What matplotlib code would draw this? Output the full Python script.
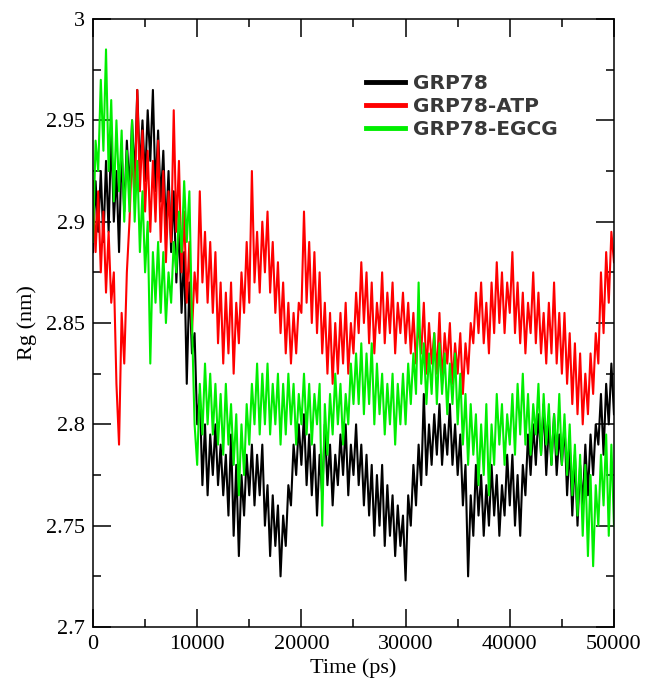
import matplotlib
matplotlib.use("Agg")
import matplotlib.pyplot as plt
from matplotlib.ticker import MultipleLocator, FixedLocator

# sampling grid of the read-off values (ps), one row below = 5000 ps
time_ps = list(range(0, 50001, 250))

grp78 = [
    2.885, 2.920, 2.895, 2.925, 2.890, 2.930, 2.895, 2.945, 2.900, 2.925, 2.885, 2.935, 2.905, 2.940, 2.915, 2.950, 2.920, 2.965, 2.925, 2.950,
    2.920, 2.955, 2.930, 2.965, 2.915, 2.945, 2.910, 2.935, 2.895, 2.925, 2.885, 2.915, 2.870, 2.900, 2.855, 2.885, 2.820, 2.870, 2.835, 2.845,
    2.800, 2.815, 2.770, 2.800, 2.765, 2.795, 2.775, 2.800, 2.770, 2.790, 2.765, 2.785, 2.755, 2.795, 2.745, 2.780, 2.735, 2.775, 2.755, 2.785,
    2.765, 2.790, 2.760, 2.785, 2.765, 2.790, 2.750, 2.770, 2.735, 2.765, 2.740, 2.760, 2.725, 2.755, 2.740, 2.770, 2.760, 2.790, 2.775, 2.800,
    2.780, 2.805, 2.770, 2.795, 2.765, 2.790, 2.755, 2.785, 2.765, 2.800, 2.770, 2.790, 2.760, 2.785, 2.770, 2.795, 2.775, 2.800, 2.765, 2.790,
    2.775, 2.800, 2.770, 2.790, 2.760, 2.785, 2.755, 2.780, 2.745, 2.775, 2.750, 2.780, 2.740, 2.770, 2.745, 2.765, 2.735, 2.760, 2.740, 2.755,
    2.723, 2.765, 2.750, 2.780, 2.760, 2.790, 2.770, 2.815, 2.775, 2.800, 2.780, 2.805, 2.785, 2.810, 2.780, 2.800, 2.785, 2.810, 2.780, 2.800,
    2.775, 2.795, 2.760, 2.780, 2.725, 2.765, 2.745, 2.780, 2.755, 2.775, 2.745, 2.770, 2.750, 2.780, 2.755, 2.775, 2.745, 2.770, 2.755, 2.785,
    2.760, 2.785, 2.750, 2.775, 2.745, 2.780, 2.765, 2.795, 2.775, 2.800, 2.780, 2.805, 2.785, 2.810, 2.775, 2.800, 2.780, 2.805, 2.775, 2.795,
    2.780, 2.800, 2.765, 2.790, 2.755, 2.785, 2.750, 2.780, 2.760, 2.790, 2.765, 2.795, 2.775, 2.800, 2.790, 2.815, 2.785, 2.820, 2.800, 2.830,
    2.805,
]

grp78_atp = [
    2.920, 2.885, 2.915, 2.875, 2.905, 2.865, 2.895, 2.860, 2.875, 2.820, 2.790, 2.855, 2.830, 2.875, 2.900, 2.935, 2.910, 2.965, 2.915, 2.945,
    2.905, 2.935, 2.895, 2.930, 2.900, 2.940, 2.890, 2.925, 2.880, 2.915, 2.890, 2.955, 2.895, 2.930, 2.875, 2.905, 2.860, 2.890, 2.845, 2.875,
    2.860, 2.915, 2.870, 2.895, 2.860, 2.890, 2.855, 2.885, 2.840, 2.870, 2.830, 2.865, 2.835, 2.870, 2.825, 2.860, 2.840, 2.875, 2.855, 2.890,
    2.860, 2.925, 2.870, 2.895, 2.865, 2.900, 2.875, 2.905, 2.865, 2.890, 2.855, 2.880, 2.845, 2.870, 2.835, 2.860, 2.830, 2.855, 2.835, 2.860,
    2.855, 2.905, 2.860, 2.890, 2.850, 2.885, 2.845, 2.875, 2.835, 2.860, 2.825, 2.855, 2.820, 2.850, 2.825, 2.855, 2.830, 2.860, 2.825, 2.850,
    2.835, 2.865, 2.845, 2.880, 2.850, 2.875, 2.840, 2.870, 2.835, 2.860, 2.845, 2.875, 2.840, 2.865, 2.845, 2.870, 2.835, 2.860, 2.845, 2.865,
    2.840, 2.860, 2.835, 2.855, 2.830, 2.850, 2.835, 2.860, 2.825, 2.850, 2.830, 2.845, 2.825, 2.855, 2.820, 2.845, 2.830, 2.850, 2.820, 2.840,
    2.825, 2.845, 2.815, 2.840, 2.825, 2.850, 2.840, 2.865, 2.845, 2.870, 2.840, 2.860, 2.835, 2.870, 2.845, 2.880, 2.850, 2.875, 2.845, 2.870,
    2.855, 2.885, 2.845, 2.870, 2.840, 2.865, 2.835, 2.860, 2.845, 2.875, 2.840, 2.865, 2.835, 2.855, 2.830, 2.860, 2.835, 2.870, 2.830, 2.855,
    2.825, 2.855, 2.820, 2.845, 2.810, 2.840, 2.805, 2.835, 2.800, 2.825, 2.805, 2.835, 2.815, 2.845, 2.830, 2.875, 2.845, 2.885, 2.860, 2.895,
    2.880,
]

grp78_egcg = [
    2.890, 2.940, 2.925, 2.970, 2.935, 2.985, 2.925, 2.960, 2.910, 2.950, 2.915, 2.945, 2.900, 2.935, 2.905, 2.950, 2.900, 2.930, 2.885, 2.915,
    2.875, 2.900, 2.830, 2.885, 2.860, 2.890, 2.855, 2.885, 2.850, 2.875, 2.860, 2.890, 2.875, 2.905, 2.885, 2.920, 2.890, 2.915, 2.850, 2.800,
    2.780, 2.820, 2.795, 2.830, 2.800, 2.825, 2.795, 2.820, 2.790, 2.815, 2.785, 2.820, 2.790, 2.810, 2.780, 2.805, 2.765, 2.800, 2.775, 2.810,
    2.790, 2.820, 2.800, 2.830, 2.795, 2.825, 2.800, 2.830, 2.795, 2.820, 2.800, 2.825, 2.790, 2.820, 2.795, 2.825, 2.800, 2.820, 2.790, 2.815,
    2.800, 2.825, 2.795, 2.820, 2.790, 2.815, 2.800, 2.820, 2.750, 2.810, 2.785, 2.815, 2.795, 2.825, 2.800, 2.820, 2.790, 2.815, 2.800, 2.830,
    2.810, 2.835, 2.810, 2.840, 2.805, 2.835, 2.810, 2.840, 2.800, 2.830, 2.805, 2.825, 2.795, 2.820, 2.800, 2.825, 2.790, 2.820, 2.800, 2.825,
    2.800, 2.830, 2.810, 2.835, 2.815, 2.870, 2.820, 2.840, 2.810, 2.835, 2.815, 2.845, 2.810, 2.840, 2.815, 2.835, 2.805, 2.830, 2.810, 2.835,
    2.800, 2.825, 2.790, 2.815, 2.780, 2.810, 2.785, 2.805, 2.770, 2.800, 2.775, 2.810, 2.765, 2.800, 2.780, 2.815, 2.790, 2.810, 2.780, 2.805,
    2.790, 2.815, 2.785, 2.820, 2.795, 2.825, 2.790, 2.815, 2.785, 2.810, 2.795, 2.820, 2.785, 2.815, 2.790, 2.810, 2.780, 2.805, 2.785, 2.815,
    2.780, 2.805, 2.775, 2.800, 2.765, 2.790, 2.755, 2.785, 2.745, 2.780, 2.735, 2.775, 2.730, 2.770, 2.750, 2.785, 2.760, 2.795, 2.745, 2.790,
    2.750,
]

labels = ["GRP78", "GRP78-ATP", "GRP78-EGCG"]
colors = ["#000000", "#ff0000", "#00ee00"]

xticks = [0, 10000, 20000, 30000, 40000, 50000]
yticks = [2.7, 2.75, 2.8, 2.85, 2.9, 2.95, 3.0]
ytick_labels = ["2.7", "2.75", "2.8", "2.85", "2.9", "2.95", "3"]

fig = plt.figure(figsize=(6.48, 6.84), dpi=100)
ax = fig.add_axes([0.1435, 0.0833, 0.804, 0.8889])

for series, lab, col in zip([grp78, grp78_atp, grp78_egcg], labels, colors):
    ax.plot(time_ps, series, color=col, lw=1.5, label=lab)

ax.set_xlim(0, 50000)
ax.set_ylim(2.7, 3.0)
ax.xaxis.set_major_locator(FixedLocator(xticks))
ax.xaxis.set_minor_locator(MultipleLocator(5000))
ax.yaxis.set_major_locator(FixedLocator(yticks))
ax.yaxis.set_minor_locator(MultipleLocator(0.025))
ax.set_yticklabels(ytick_labels)
ax.set_xticklabels([str(t) for t in xticks])

ax.tick_params(which="both", direction="in", top=True, right=True, width=1.1)
ax.tick_params(which="major", length=13, labelsize=16, pad=6)
ax.tick_params(which="minor", length=6)
for lbl in ax.get_xticklabels() + ax.get_yticklabels():
    lbl.set_fontfamily("Liberation Serif")
for sp in ax.spines.values():
    sp.set_linewidth(1.1)

ax.set_xlabel("Time (ps)", fontsize=16, family="Liberation Serif", labelpad=3)
ax.set_ylabel("Rg (nm)", fontsize=16, family="Liberation Serif", labelpad=6)

leg = ax.legend(loc="upper left", bbox_to_anchor=(0.49, 0.94), frameon=False,
                handlelength=1.9, handletextpad=0.4, labelspacing=0.22,
                prop={"family": "DejaVu Sans", "weight": "bold", "size": 14.5})
for h in leg.get_lines():
    h.set_linewidth(3.5)
for t in leg.get_texts():
    t.set_color("#383838")

fig.savefig("out.png", dpi=100)
